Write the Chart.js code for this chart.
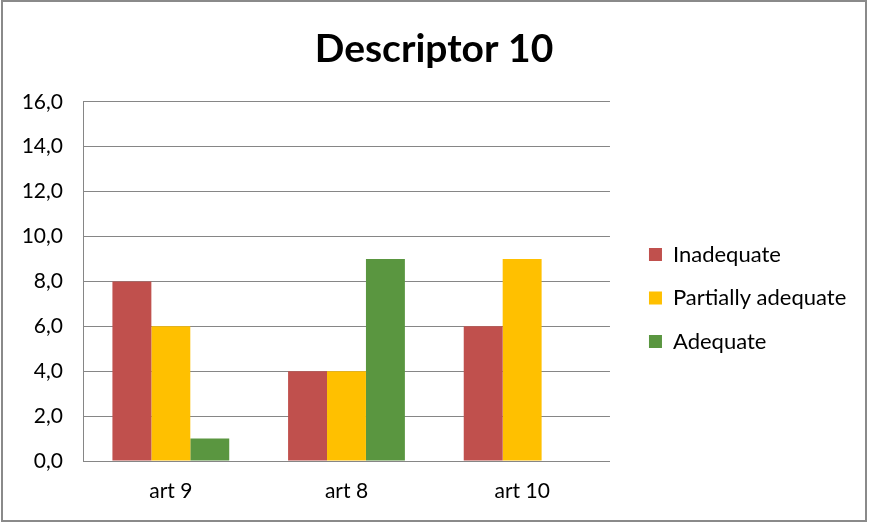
<!DOCTYPE html>
<html>
<head>
<meta charset="utf-8">
<script src="https://cdn.jsdelivr.net/npm/chart.js@4/dist/chart.umd.min.js"></script>
<style>
  html, body { margin: 0; padding: 0; background: #fff; }
  #frame {
    position: absolute; left: 1px; top: 0px;
    width: 866px; height: 522px;
    border: 2px solid #8a8a8a; box-sizing: border-box;
  }
  #descChart { display: block; }
</style>
</head>
<body>
<div id="frame"><canvas id="descChart" width="862" height="518"></canvas></div>
<script>
// chart data
const categories = ['art 9', 'art 8', 'art 10'];
const inadequate = [8, 4, 6];
const partiallyAdequate = [6, 4, 9];
const adequate = [1, 9, null];
const yMin = 0;
const yMax = 16;
const yStep = 2;

const font = 'Lato, "Open Sans", sans-serif';

// Excel-like placement: legend pushed away from the plot, title centred on the whole frame
const boxNudge = {
  id: 'boxNudge',
  afterLayout(chart) {
    const lg = chart.legend;
    lg.left = chart.chartArea.right + 17.5;
    lg.right = chart.width;
    lg.width = lg.right - lg.left;
    lg.top += 37;
    lg.bottom += 37;

    const tb = chart.titleBlock;
    tb.left = 0;
    tb.right = chart.width;
    tb.width = chart.width;
  },
};

const ctx = document.getElementById('descChart');

new Chart(ctx, {
  type: 'bar',
  data: {
    labels: categories,
    datasets: [
      {
        label: 'Inadequate',
        data: inadequate,
        backgroundColor: '#C0504D',
        borderWidth: 0,
      },
      {
        label: 'Partially adequate',
        data: partiallyAdequate,
        backgroundColor: '#FFC000',
        borderWidth: 0,
      },
      {
        label: 'Adequate',
        data: adequate,
        backgroundColor: '#5A9640',
        borderWidth: 0,
      },
    ],
  },
  plugins: [boxNudge],
  options: {
    responsive: false,
    animation: false,
    categoryPercentage: 0.665,
    barPercentage: 1.0,
    layout: {
      padding: { left: 0, right: 52.7, top: 0, bottom: 0 },
    },
    plugins: {
      title: {
        display: true,
        text: 'Descriptor 10',
        color: '#000',
        font: { family: font, size: 39, weight: 'bold' },
        padding: { top: 24, bottom: 29 },
      },
      legend: {
        position: 'right',
        labels: {
          boxWidth: 13,
          boxHeight: 13,
          padding: 21.5,
          color: '#000',
          font: { family: font, size: 22 },
        },
      },
      tooltip: { enabled: false },
    },
    scales: {
      x: {
        grid: { display: false, drawTicks: false },
        border: { display: true, color: '#868686', width: 1 },
        ticks: {
          color: '#000',
          padding: 18,
          font: { family: font, size: 21 },
        },
        afterFit: (scale) => { scale.height = 59; },
      },
      y: {
        min: yMin,
        max: yMax,
        grid: { color: '#868686', lineWidth: 1, drawTicks: false },
        border: { display: true, color: '#868686', width: 1 },
        ticks: {
          stepSize: yStep,
          color: '#000',
          padding: 20,
          font: { family: font, size: 21 },
          callback: (v) => v.toFixed(1).replace('.', ','),
        },
        afterFit: (scale) => { scale.width = 80; },
      },
    },
  },
});
</script>
</body>
</html>
